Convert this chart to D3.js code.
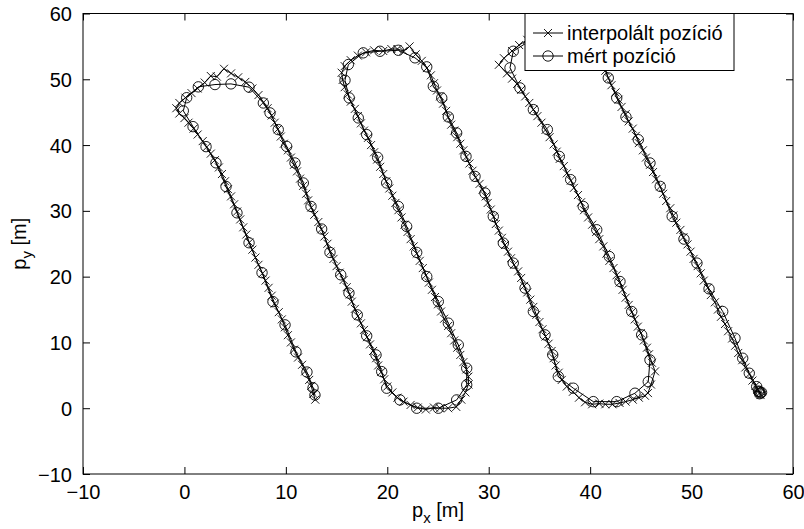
<!DOCTYPE html>
<html>
<head>
<meta charset="utf-8">
<script src="https://cdn.jsdelivr.net/npm/d3@7"></script>
<style>
body { margin: 0; background: #fff; }
text { font-family: "Liberation Sans", Arial, sans-serif; fill: #000; }
</style>
</head>
<body>
<div id="chart"></div>
<script>
const W = 804, H = 529
const margin = { left: 83, right: 11, top: 13.5, bottom: 55 }

const xTicks = [-10, 0, 10, 20, 30, 40, 50, 60]
const yTicks = [-10, 0, 10, 20, 30, 40, 50, 60]
const seriesNames = ['interpolált pozíció', 'mért pozíció']

// mért pozíció (o)
const measured = [
  [12.87,2.0],[12.68,3.1],[12.08,5.5],[11.0,8.56],[9.92,12.67],[8.73,16.2],[7.65,20.6],[6.37,25.15],
  [5.18,29.7],[4.1,33.7],[3.11,37.3],[2.13,39.76],[0.85,42.8],[-0.11,45.2],[0.22,47.2],[1.37,48.85],
  [3.01,49.2],[4.59,49.3],[6.37,48.8],[7.78,46.4],
  [8.44,44.89],[9.25,42.35],[10.08,39.8],[10.9,37.28],[11.72,34.24],[12.48,30.67],[13.53,27.24],
  [14.35,23.68],[15.41,20.28],[16.22,17.5],[17.04,14.19],[17.97,11.0],[18.89,8.1],[19.45,5.56],
  [19.94,3.04],[21.25,1.26],[22.9,0.0],[25.03,0.0],[26.84,1.26],[27.83,3.54],[27.83,6.08],
  [27.0,9.63],[26.02,12.93],[25.03,16.22],[23.89,20.02],[22.9,23.68],[21.91,27.63],[21.09,30.67],
  [19.94,34.24],[19.05,38.13],[17.97,41.59],[17.14,44.13],[16.25,47.17],[15.83,49.85],[16.16,52.24],
  [17.63,54.02],[19.28,54.26],[21.09,54.41],[22.73,53.26],[23.89,51.89],
  [24.54,48.94],[25.37,47.17],[26.02,44.28],[26.84,41.84],[27.76,38.28],[28.65,35.24],[29.63,32.71],
  [30.45,29.15],[31.44,25.1],[32.42,22.06],[33.58,18.26],[34.4,14.7],[35.55,11.15],[36.31,8.11],
  [36.86,4.81],[38.34,3.04],[40.31,1.0],[42.62,1.0],[44.42,2.28],[45.73,4.04],[45.9,7.34],
  [45.08,11.15],[44.1,14.7],[42.94,19.26],[41.89,23.06],[40.65,27.13],[39.32,30.67],[38.08,34.74],
  [36.96,38.28],[35.78,42.35],[34.4,45.39],[33.08,48.69],[32.1,51.74],[32.42,54.26],[34.2,56.0],
  [36.3,57.0],[38.5,56.6],[40.3,54.5],[41.3,52.3],
  [41.79,50.21],[42.62,47.17],[43.53,44.28],[44.75,40.82],[45.9,37.28],[46.91,33.72],[48.09,29.15],
  [49.25,25.71],[50.53,22.06],[51.72,18.15],[53.07,14.7],[54.28,10.65],[55.04,7.6],[55.69,5.32],
  [56.42,3.28],[56.68,2.52],[56.8,2.3],[56.6,2.6],[56.9,2.4],[56.7,2.2]
]

// interpolált pozíció (x)
const interp = [
  [12.9,1.3],[12.7,2.2],[12.5,3.4],[12.3,4.3],[11.9,5.6],[11.6,6.6],[11.2,7.7],[10.8,8.9],[10.5,10.0],
  [10.2,11.1],[9.9,12.3],[9.6,13.5],[9.3,14.6],[8.9,15.9],[8.6,17.1],[8.3,18.3],[8.0,19.4],[7.7,20.5],
  [7.3,21.8],[7.0,22.9],[6.7,24.1],[6.4,25.2],[6.1,26.4],[5.8,27.5],[5.5,28.7],[5.2,29.9],[4.9,31.0],
  [4.6,32.2],[4.3,33.3],[4.0,34.5],[3.7,35.6],[3.4,36.6],[3.0,37.7],[2.6,38.7],[2.2,39.7],[1.8,40.6],
  [1.3,41.6],[0.9,42.5],[0.4,43.4],[0.0,44.1],[-0.5,44.8],[-0.8,45.6],[-0.5,46.4],[0.1,47.2],[0.7,47.9],
  [1.3,48.6],[2.0,49.5],[2.6,50.5],[3.2,50.4],[3.9,51.6],[4.6,50.9],[5.3,50.3],[6.0,49.6],[6.7,48.6],
  [7.3,47.6],[7.8,46.5],
  [8.2,45.6],[8.6,44.5],[8.9,43.4],[9.2,42.4],[9.5,41.3],[9.8,40.2],[10.2,39.2],[10.5,38.1],[10.8,37.0],
  [11.1,36.0],[11.4,34.9],[11.7,33.8],[12.0,32.6],[12.2,31.6],[12.5,30.5],[12.8,29.4],[13.2,28.3],
  [13.5,27.2],[13.8,26.1],[14.1,25.0],[14.4,23.8],[14.7,22.7],[15.0,21.6],[15.3,20.6],[15.7,19.5],
  [16.0,18.4],[16.3,17.3],[16.5,16.2],[16.8,15.1],[17.1,14.0],[17.4,12.9],[17.7,11.9],[18.0,10.8],
  [18.3,9.7],[18.6,8.7],[18.9,7.6],[19.1,6.5],[19.4,5.5],[19.7,4.4],[20.0,3.3],[20.5,2.4],[21.0,1.6],
  [21.6,1.0],[22.3,0.5],[23.0,0.1],[23.8,-0.2],[24.6,0.1],[25.2,0.0],[26.0,0.0],[26.8,0.2],[27.3,1.3],
  [27.7,2.4],[28.0,3.6],[28.0,4.8],[27.8,5.9],
  [27.5,7.0],[27.2,8.1],[26.9,9.2],[26.6,10.3],[26.3,11.4],[26.0,12.5],[25.6,13.6],[25.3,14.7],
  [25.0,15.8],[24.7,16.9],[24.4,18.0],[24.1,19.1],[23.8,20.2],[23.5,21.3],[23.2,22.4],[22.9,23.5],
  [22.6,24.6],[22.3,25.7],[22.0,26.8],[21.7,27.9],[21.4,29.0],[21.1,30.1],[20.8,31.2],[20.5,32.3],
  [20.2,33.4],[19.9,34.5],[19.6,35.6],[19.3,36.7],[19.0,37.8],[18.7,38.9],[18.4,40.0],[18.1,41.1],
  [17.7,42.2],[17.4,43.3],[17.1,44.4],[16.8,45.5],[16.4,46.6],[16.1,47.7],[15.8,48.8],[15.6,49.9],
  [15.5,51.0],[15.8,52.0],[16.4,52.9],[17.1,53.6],[17.9,54.1],[18.7,54.4],[19.6,54.3],[20.4,54.6],
  [21.0,54.6],[21.6,54.3],[22.2,55.0],[22.8,53.8],[23.4,52.8],[23.9,51.7],[24.3,50.6],
  [24.6,49.4],[24.9,48.3],[25.2,47.4],[25.5,46.3],[25.8,45.2],[26.0,44.2],[26.3,43.1],[26.6,42.2],
  [26.9,41.2],[27.2,40.2],[27.5,39.2],[27.8,38.2],[28.1,37.2],[28.4,36.1],[28.7,35.1],[29.1,34.1],
  [29.4,33.2],[29.7,32.2],[29.9,31.2],[30.2,30.2],[30.5,29.1],[30.7,28.0],[31.0,27.0],[31.3,25.9],
  [31.6,24.8],[31.9,23.8],[32.2,22.8],[32.5,21.8],[32.9,20.8],[33.2,19.8],[33.5,18.6],[33.8,17.6],
  [34.1,16.5],[34.4,15.4],[34.7,14.2],[35.0,13.1],[35.3,12.0],[35.6,10.9],[35.9,9.8],[36.2,8.7],
  [36.4,7.6],[36.6,6.5],[36.9,5.4],[37.2,4.3],[37.7,3.3],[38.3,2.5],[38.9,1.6],[39.5,0.9],[40.2,0.6],
  [40.9,0.7],[41.5,0.6],[42.2,0.6],[42.9,0.8],[43.5,1.0],[44.2,1.3],[44.8,1.6],[45.4,1.9],[45.7,2.3],
  [46.0,3.6],[46.4,5.6],[46.1,6.9],
  [45.8,8.2],[45.6,9.2],[45.3,10.3],[45.0,11.4],[44.7,12.4],[44.4,13.5],[44.1,14.6],[43.8,15.7],
  [43.5,16.8],[43.2,18.0],[42.9,19.1],[42.6,20.2],[42.3,21.3],[41.9,22.4],[41.6,23.5],[41.3,24.6],
  [40.9,25.7],[40.6,26.8],[40.2,27.9],[39.8,29.0],[39.4,30.1],[39.1,31.3],[38.8,32.4],[38.4,33.5],
  [38.1,34.6],[37.7,35.7],[37.4,36.8],[37.0,37.9],[36.7,39.0],[36.4,40.1],[36.0,41.2],[35.6,42.3],
  [35.2,43.4],[34.8,44.4],[34.4,45.4],[34.0,46.4],[33.6,47.4],[33.2,48.4],[32.8,49.3],[32.3,50.1],
  [31.8,50.9],[31.0,52.2],[31.5,53.2],[32.3,54.3],[33.0,55.2],[33.8,56.0],[34.8,56.7],[35.9,57.2],
  [37.0,57.3],[38.1,56.9],[39.1,56.1],[39.9,55.0],[40.6,53.8],[41.1,52.5],[41.5,51.3],
  [41.8,50.2],[42.1,49.1],[42.5,48.0],[42.8,46.9],[43.1,45.8],[43.5,44.7],[43.8,43.6],[44.2,42.5],
  [44.5,41.4],[44.8,40.3],[45.2,39.2],[45.5,38.1],[45.9,37.0],[46.2,35.9],[46.5,34.8],[46.9,33.7],
  [47.2,32.6],[47.5,31.5],[47.9,30.4],[48.2,29.3],[48.5,28.2],[48.9,27.1],[49.2,26.0],[49.6,24.9],
  [49.9,23.8],[50.2,22.7],[50.6,21.6],[50.9,20.5],[51.2,19.4],[51.6,18.3],[51.9,17.2],[52.3,16.1],
  [52.6,15.0],[52.9,13.9],[53.3,12.8],[53.6,11.7],[54.0,10.6],[54.3,9.5],[54.6,8.4],[55.0,7.3],
  [55.3,6.2],[55.7,5.2],[56.0,4.2],[56.3,3.4],[56.5,2.8],[56.7,2.3],[56.8,2.0]
]

const svg = d3.select('#chart').append('svg')
  .attr('width', W).attr('height', H)

const x = d3.scaleLinear().domain([-10, 60]).range([margin.left, W - margin.right])
const y = d3.scaleLinear().domain([-10, 60]).range([H - margin.bottom, margin.top])

const fmt = d => (d < 0 ? '\u2212' + Math.abs(d) : String(d))
const FS = 20
const tickLen = 7

// axes with inward ticks on all four sides
const gx = svg.append('g').attr('transform', `translate(0,${y(-10)})`)
  .call(d3.axisBottom(x).tickValues(xTicks).tickSize(-tickLen).tickPadding(tickLen + 4).tickFormat(fmt))
const gxt = svg.append('g').attr('transform', `translate(0,${y(60)})`)
  .call(d3.axisTop(x).tickValues(xTicks).tickSize(-tickLen).tickFormat(''))
const gy = svg.append('g').attr('transform', `translate(${x(-10)},0)`)
  .call(d3.axisLeft(y).tickValues(yTicks).tickSize(-tickLen).tickPadding(tickLen + 4).tickFormat(fmt))
const gyr = svg.append('g').attr('transform', `translate(${x(60)},0)`)
  .call(d3.axisRight(y).tickValues(yTicks).tickSize(-tickLen).tickFormat(''))

for (const g of [gx, gxt, gy, gyr]) {
  g.select('.domain').remove()
  g.selectAll('line').attr('stroke', '#000').attr('stroke-width', 1)
  g.selectAll('text').style('font-size', FS + 'px').style('font-family', '"Liberation Sans", Arial, sans-serif')
}
gy.selectAll('text').attr('dy', '0.35em')

svg.append('rect')
  .attr('x', x(-10)).attr('y', y(60))
  .attr('width', x(60) - x(-10)).attr('height', y(-10) - y(60))
  .attr('fill', 'none').attr('stroke', '#000').attr('stroke-width', 1)

// axis labels
const xl = svg.append('text').attr('x', (x(-10) + x(60)) / 2).attr('y', 517)
  .attr('text-anchor', 'middle').style('font-size', FS + 'px')
xl.append('tspan').text('p')
xl.append('tspan').text('x').attr('dy', 6).style('font-size', '15px')
xl.append('tspan').text(' [m]').attr('dy', -6)

const yl = svg.append('text')
  .attr('transform', `translate(26,${(y(-10) + y(60)) / 2}) rotate(-90)`)
  .attr('text-anchor', 'middle').style('font-size', FS + 'px')
yl.append('tspan').text('p')
yl.append('tspan').text('y').attr('dy', 6).style('font-size', '15px')
yl.append('tspan').text(' [m]').attr('dy', -6)

const line = d3.line().x(d => x(d[0])).y(d => y(d[1]))
const plot = svg.append('g')

function crossPath(cx, cy, r) {
  return `M${cx - r},${cy - r}L${cx + r},${cy + r}M${cx - r},${cy + r}L${cx + r},${cy - r}`
}

const SW = 1
plot.append('path').datum(interp).attr('d', line)
  .attr('fill', 'none').attr('stroke', '#000').attr('stroke-width', SW)
plot.append('g').selectAll('path').data(interp).enter().append('path')
  .attr('d', d => crossPath(x(d[0]), y(d[1]), 4))
  .attr('stroke', '#000').attr('stroke-width', 0.9).attr('fill', 'none')

plot.append('path').datum(measured).attr('d', line)
  .attr('fill', 'none').attr('stroke', '#000').attr('stroke-width', SW)
plot.append('g').selectAll('circle').data(measured).enter().append('circle')
  .attr('cx', d => x(d[0])).attr('cy', d => y(d[1])).attr('r', 5.2)
  .attr('fill', 'none').attr('stroke', '#000').attr('stroke-width', 0.9)

// legend
const lg = svg.append('g')
lg.append('rect').attr('x', 525).attr('y', y(60)).attr('width', 209).attr('height', 57)
  .attr('fill', '#fff').attr('stroke', '#000').attr('stroke-width', 1)
const rows = [33, 56]
seriesNames.forEach((name, i) => {
  const ry = rows[i]
  lg.append('line').attr('x1', 533).attr('x2', 563).attr('y1', ry).attr('y2', ry)
    .attr('stroke', '#000').attr('stroke-width', SW)
  if (i === 0) {
    lg.append('path').attr('d', crossPath(548, ry, 4)).attr('stroke', '#000').attr('stroke-width', 0.9)
  } else {
    lg.append('circle').attr('cx', 548).attr('cy', ry).attr('r', 5.2)
      .attr('fill', 'none').attr('stroke', '#000').attr('stroke-width', 0.9)
  }
  lg.append('text').attr('x', 567).attr('y', ry).attr('dy', '0.35em')
    .style('font-size', FS + 'px').text(name)
})
</script>
</body>
</html>
